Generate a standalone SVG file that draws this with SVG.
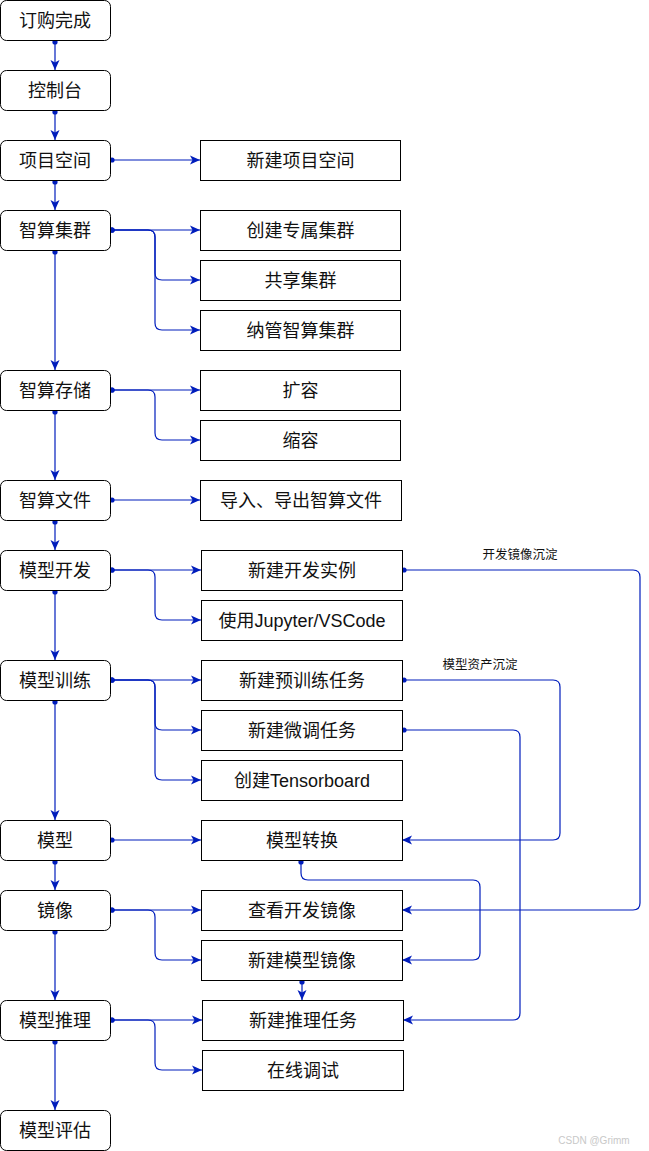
<svg xmlns="http://www.w3.org/2000/svg" width="649" height="1151" viewBox="0 0 649 1151">
<style>
.n rect{fill:#fff;stroke:#000;stroke-width:1}
.n text{font-family:"Liberation Sans","Noto Sans CJK SC",sans-serif;font-size:18px;fill:#111;text-anchor:middle;dominant-baseline:central}
.e path{fill:none;stroke:#001DBC;stroke-width:1.2;marker-start:url(#dot);marker-end:url(#arr)}
.lbl{font-family:"Noto Sans CJK SC",sans-serif;font-size:12.5px;fill:#111;text-anchor:middle}
</style>
<defs>
<marker id="arr" markerUnits="userSpaceOnUse" markerWidth="12" markerHeight="10" refX="10" refY="5" orient="auto">
<path d="M0,0.5 L10,5 L0,9.5 L2.5,5 Z" fill="#001DBC"/>
</marker>
<marker id="dot" markerUnits="userSpaceOnUse" markerWidth="8" markerHeight="8" refX="4" refY="4" orient="auto">
<circle cx="4" cy="4" r="2.6" fill="#001DBC"/>
</marker>
</defs>
<rect width="649" height="1151" fill="#fff"/>
<g class="e" id="connectors">
<path d="M55,42 V70"/>
<path d="M55,112 V140"/>
<path d="M55,182 V210"/>
<path d="M55,252 V370"/>
<path d="M55,412 V480"/>
<path d="M55,522 V550"/>
<path d="M55,592 V660"/>
<path d="M55,702 V820"/>
<path d="M55,862 V890"/>
<path d="M55,932 V1000"/>
<path d="M55,1042 V1110"/>
<path d="M112,160 H200"/>
<path d="M112,230 H200"/>
<path d="M112,230 H148 Q155,230 155,237 V273 Q155,280 162,280 H200"/>
<path d="M112,230 H148 Q155,230 155,237 V323 Q155,330 162,330 H200"/>
<path d="M112,390 H200"/>
<path d="M112,390 H148 Q155,390 155,397 V433 Q155,440 162,440 H200"/>
<path d="M112,500 H200"/>
<path d="M112,570 H201"/>
<path d="M112,570 H148 Q155,570 155,577 V613 Q155,620 162,620 H201"/>
<path d="M112,680 H201"/>
<path d="M112,680 H148 Q155,680 155,687 V723 Q155,730 162,730 H201"/>
<path d="M112,680 H148 Q155,680 155,687 V773 Q155,780 162,780 H201"/>
<path d="M112,840 H201"/>
<path d="M112,910 H201"/>
<path d="M112,910 H148 Q155,910 155,917 V953 Q155,960 162,960 H201"/>
<path d="M112,1020 H202"/>
<path d="M112,1020 H148 Q155,1020 155,1027 V1063 Q155,1070 162,1070 H202"/>
<path d="M404,570 H633 Q640,570 640,577 V903 Q640,910 633,910 H402"/>
<path d="M404,680 H553 Q560,680 560,687 V833 Q560,840 553,840 H402"/>
<path d="M404,730 H513 Q520,730 520,737 V1013 Q520,1020 513,1020 H403"/>
<path d="M301,862 V873 Q301,880 308,880 H473 Q480,880 480,887 V953 Q480,960 473,960 H402"/>
<path d="M302,982 V1000"/>
</g>
<text class="lbl" x="520" y="559">开发镜像沉淀</text>
<text class="lbl" x="480" y="669">模型资产沉淀</text>
<g class="n" id="n-dinggou"><rect x="0.5" y="0.5" width="110" height="40" rx="6"/><text x="55" y="20.5">订购完成</text></g>
<g class="n" id="n-kongzhitai"><rect x="0.5" y="70.5" width="110" height="40" rx="6"/><text x="55" y="90.5">控制台</text></g>
<g class="n" id="n-xiangmu"><rect x="0.5" y="140.5" width="110" height="40" rx="6"/><text x="55" y="160.5">项目空间</text></g>
<g class="n" id="n-jiqun"><rect x="0.5" y="210.5" width="110" height="40" rx="6"/><text x="55" y="230.5">智算集群</text></g>
<g class="n" id="n-cunchu"><rect x="0.5" y="370.5" width="110" height="40" rx="6"/><text x="55" y="390.5">智算存储</text></g>
<g class="n" id="n-wenjian"><rect x="0.5" y="480.5" width="110" height="40" rx="6"/><text x="55" y="500.5">智算文件</text></g>
<g class="n" id="n-kaifa"><rect x="0.5" y="550.5" width="110" height="40" rx="6"/><text x="55" y="570.5">模型开发</text></g>
<g class="n" id="n-xunlian"><rect x="0.5" y="660.5" width="110" height="40" rx="6"/><text x="55" y="680.5">模型训练</text></g>
<g class="n" id="n-moxing"><rect x="0.5" y="820.5" width="110" height="40" rx="6"/><text x="55" y="840.5">模型</text></g>
<g class="n" id="n-jingxiang"><rect x="0.5" y="890.5" width="110" height="40" rx="6"/><text x="55" y="910.5">镜像</text></g>
<g class="n" id="n-tuili"><rect x="0.5" y="1000.5" width="110" height="40" rx="6"/><text x="55" y="1020.5">模型推理</text></g>
<g class="n" id="n-pinggu"><rect x="0.5" y="1110.5" width="110" height="40" rx="6"/><text x="55" y="1130.5">模型评估</text></g>
<g class="n" id="r-xjxm"><rect x="200.5" y="140.5" width="200" height="40"/><text x="300.5" y="160.5">新建项目空间</text></g>
<g class="n" id="r-cjzs"><rect x="200.5" y="210.5" width="200" height="40"/><text x="300.5" y="230.5">创建专属集群</text></g>
<g class="n" id="r-gxjq"><rect x="200.5" y="260.5" width="200" height="40"/><text x="300.5" y="280.5">共享集群</text></g>
<g class="n" id="r-ngzs"><rect x="200.5" y="310.5" width="200" height="40"/><text x="300.5" y="330.5">纳管智算集群</text></g>
<g class="n" id="r-kuorong"><rect x="200.5" y="370.5" width="200" height="40"/><text x="300.5" y="390.5">扩容</text></g>
<g class="n" id="r-suorong"><rect x="200.5" y="420.5" width="200" height="40"/><text x="300.5" y="440.5">缩容</text></g>
<g class="n" id="r-daoru"><rect x="200.5" y="480.5" width="201" height="40"/><text x="301" y="500.5">导入、导出智算文件</text></g>
<g class="n" id="r-kfsl"><rect x="201.5" y="550.5" width="201" height="40"/><text x="302" y="570.5">新建开发实例</text></g>
<g class="n" id="r-jupyter"><rect x="201.5" y="600.5" width="201" height="40"/><text x="302" y="620.5">使用Jupyter/VSCode</text></g>
<g class="n" id="r-yxl"><rect x="201.5" y="660.5" width="201" height="40"/><text x="302" y="680.5">新建预训练任务</text></g>
<g class="n" id="r-wt"><rect x="201.5" y="710.5" width="201" height="40"/><text x="302" y="730.5">新建微调任务</text></g>
<g class="n" id="r-tb"><rect x="201.5" y="760.5" width="201" height="40"/><text x="302" y="780.5">创建Tensorboard</text></g>
<g class="n" id="r-zh"><rect x="201.5" y="820.5" width="201" height="40"/><text x="302" y="840.5">模型转换</text></g>
<g class="n" id="r-ckjx"><rect x="201.5" y="890.5" width="201" height="40"/><text x="302" y="910.5">查看开发镜像</text></g>
<g class="n" id="r-xjjx"><rect x="201.5" y="940.5" width="201" height="40"/><text x="302" y="960.5">新建模型镜像</text></g>
<g class="n" id="r-tlrw"><rect x="202.5" y="1000.5" width="201" height="40"/><text x="303" y="1020.5">新建推理任务</text></g>
<g class="n" id="r-zxts"><rect x="202.5" y="1050.5" width="201" height="40"/><text x="303" y="1070.5">在线调试</text></g>
<text x="594" y="1144" font-family="Liberation Sans,sans-serif" font-size="10" fill="#c8c8c8" text-anchor="middle">CSDN @Grimm</text>
</svg>
